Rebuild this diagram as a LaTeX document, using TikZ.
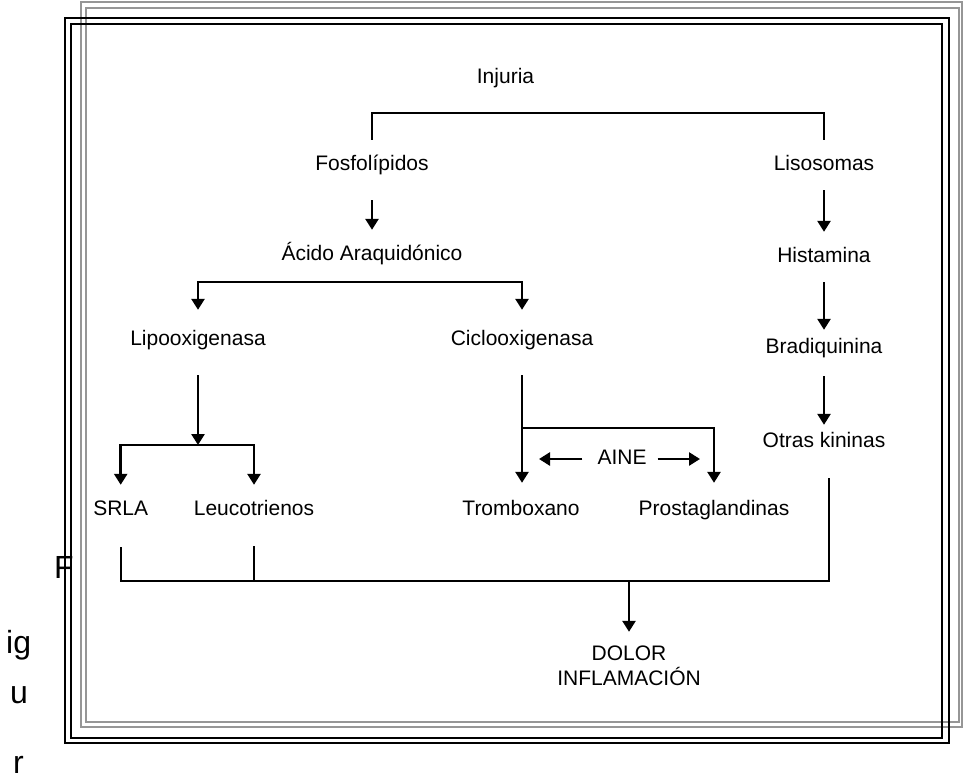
\documentclass[tikz,border=0pt]{standalone}
\usepackage{fontspec}
\setmainfont{Liberation Sans}
\usetikzlibrary{arrows.meta}
\definecolor{framegray}{RGB}{150,150,150}
\tikzset{lbl/.style={inner sep=0pt, text height=15pt, text depth=5pt, anchor=base, font=\fontsize{21}{25}\selectfont},
         figl/.style={inner sep=0pt, anchor=base west, font=\fontsize{32}{38}\selectfont},
         arr/.style={line width=2.6pt, -{Triangle[width=13pt,length=11pt]}},
         plain/.style={line width=1.6pt},
         frame/.style={line width=2pt},
        }
\begin{document}
\begin{tikzpicture}[x=1pt,y=-1pt]
        \useasboundingbox (0,0) rectangle (963,782);
        \draw[frame,framegray](80.7,2.3)rectangle(962,727.3);
        \draw[frame,framegray](85.7,8.3)rectangle(959,722.3);
        \draw[frame](65,18.3)rectangle(949,743.3);
        \draw[frame](71,24.3)rectangle(942.3,737.7);

        \node[lbl](inj)at(505.5,83){Injuria};
        \node[lbl](fos)at(372,170){Fosfolípidos};
        \node[lbl](lis)at(824,170){Lisosomas};
        \node[lbl](aci)at(372,260){Ácido Araquidónico};
        \node[lbl](his)at(824,262){Histamina};
        \node[lbl](lipo)at(198,345){Lipooxigenasa};
        \node[lbl](cic)at(522,345){Ciclooxigenasa};
        \node[lbl](bra)at(824,353){Bradiquinina};
        \node[lbl](otr)at(824,447){Otras kininas};
        \node[lbl](aine)at(622,464){AINE};
        \node[lbl](srla)at(120.7,515){SRLA};
        \node[lbl](leu)at(254,515){Leucotrienos};
        \node[lbl](tro)at(521,515){Tromboxano};
        \node[lbl](pro)at(714,515){Prostaglandinas};
        \node[lbl](dol)at(629,660){DOLOR};
        \node[lbl](inf)at(629,685){INFLAMACIÓN};

        \node[figl](f1)at(54,578){F};
        \node[figl](f2)at(6,653){ig};
        \node[figl](f3)at(10,703){u};
        \node[figl](f4)at(13,773){r};

        \coordinate(injb)at(598,113);
        \draw[plain,shorten <=15pt,shorten >=15pt](fos.north)|-(injb)-|(lis.north);
        \draw[arr,shorten <=25pt,shorten >=15pt](fos.south)--(aci.north);

        \coordinate(acib)at(372,282);
        \draw[arr,shorten >=20pt](acib)-|(lipo.north);
        \draw[arr,shorten >=20pt](acib)-|(cic.north);

        \draw[arr,shorten <=15pt,shorten >=15pt](lis.south)--(his.north);
        \draw[arr,shorten <=15pt,shorten >=8pt](his.south)--(bra.north);
        \draw[arr,shorten <=18pt,shorten >=7pt](bra.south)--(otr.north);

        \coordinate(lipj)at(198,445);
        \draw[arr,shorten <=25pt](lipo.south)--(lipj);
        \draw[arr,shorten >=15pt](lipj)-|(srla.north);
        \draw[arr,shorten >=15pt](lipj)-|(leu.north);

        \coordinate(cicj)at(522,428);
        \draw[arr,shorten <=25pt,shorten >=17pt](cic.south)--(cic.south|-tro.north);
        \draw[arr,shorten >=17pt](cicj)-|(pro.north);
        \draw[arr,shorten <=15pt,shorten >=17pt](aine.west)--(aine.west-|cicj);
        \draw[arr,shorten <=11pt,shorten >=14pt](aine.east)--(aine.east-|pro.north);

        \coordinate(botr)at(829,581);
        \coordinate(otrb)at(829,478);
        \draw[plain,shorten <=27pt](srla.south)|-(botr)--(otrb);
        \draw[plain,shorten <=26pt](leu.south)--(leu.south|-botr);
        \draw[arr,shorten >=13pt](dol.north|-botr)--(dol.north);
    \end{tikzpicture}
\end{document}
